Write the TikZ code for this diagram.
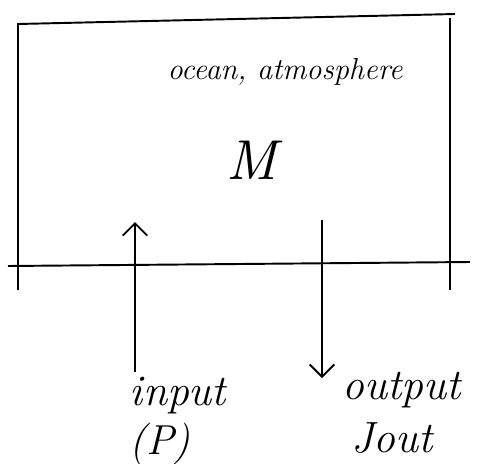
\documentclass[tikz,border=0pt]{standalone}
\usepackage{tikz}
\usetikzlibrary{arrows.meta,positioning}

\tikzset{
  pen/.style={line width=1.1pt, black},
  flow/.style={pen, -{Straight Barb[length=7pt,width=14pt]}},
  hand/.style={font=\itshape, inner sep=0pt}
}

\begin{document}
\begin{tikzpicture}[x=0.02cm, y=-0.02cm]
  \useasboundingbox (0,0) rectangle (495,464);

  % Reservoir box
  \draw[pen] (18,290) -- (18,24) -- (455,14);
  \draw[pen] (450,18) -- (450,290);
  \draw[pen] (8,266) -- (470,262);

  % Labels inside
  \node[hand, font=\LARGE\itshape] (medium) at (285,72) {ocean, atmosphere};
  \node[hand, scale=3.2] (mass) at (252,160) {M};

  % Fluxes
  \coordinate (inBot) at (135,372);
  \coordinate (inTop) at (135,222);
  \coordinate (outTop) at (322,220);
  \coordinate (outBot) at (322,378);
  \draw[flow] (inBot) -- (inTop);
  \draw[flow] (outTop) -- (outBot);

  % Input label
  \node[hand, font=\huge\itshape, scale=1.2] (input) at (178,396) {input};
  \node[hand, font=\huge\itshape, scale=1.15] (prec) at (160,444) {(P)};

  % Output label
  \node[hand, font=\huge\itshape, scale=1.2] (output) at (402,390) {output};
  \node[hand, font=\huge\itshape, scale=1.2] (jout) at (392,438) {Jout};
\end{tikzpicture}
\end{document}
